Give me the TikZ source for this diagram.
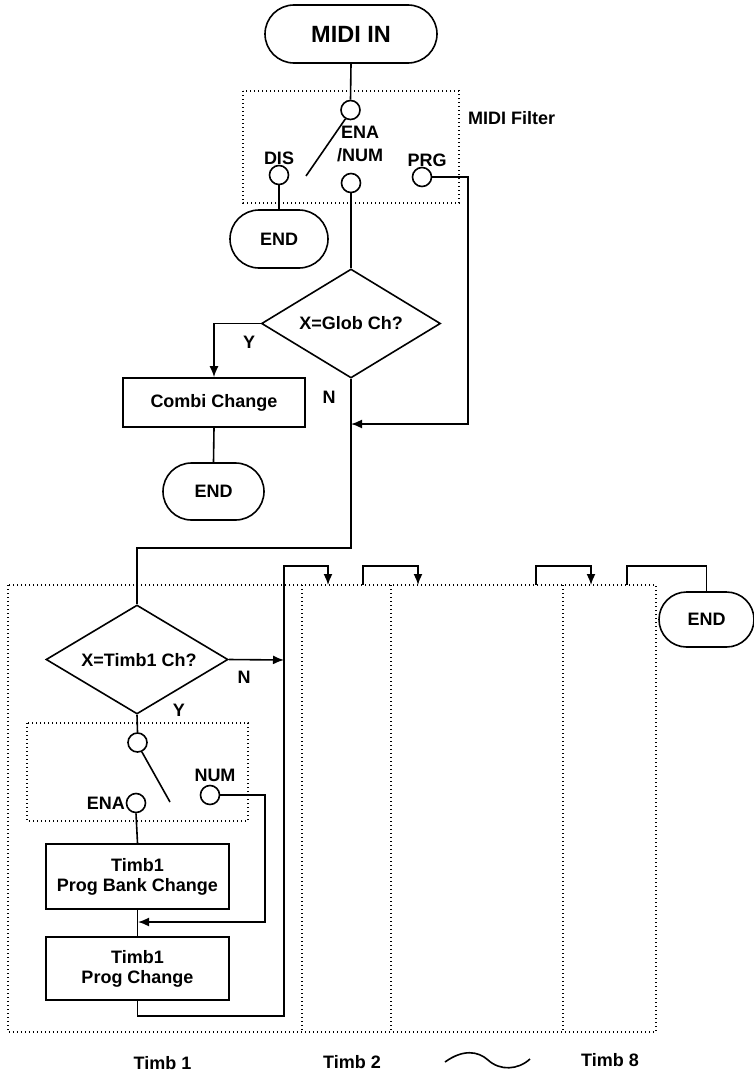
\documentclass[tikz,border=0pt]{standalone}
\usepackage{fontspec}
\setmainfont{Liberation Sans}
\usetikzlibrary{shapes.geometric,shapes.misc,arrows.meta}
\begin{document}
\begin{tikzpicture}[x=1pt,y=-1pt,
  every node/.style={font=\fontsize{18}{20}\selectfont\bfseries},
  ln/.style={line width=1.6pt},
  arr/.style={ln,-{Latex[length=11pt,width=9pt]}},
  dotbox/.style={line width=1.4pt,dash pattern=on 1.4pt off 2.6pt},
  term/.style={draw,ln,rounded rectangle,minimum height=#1,inner sep=0pt},
  procbox/.style={draw,ln,rectangle,inner sep=0pt,align=center},
  dia/.style={draw,ln,diamond,inner sep=0pt},
  sw/.style={draw,ln,circle,minimum size=19pt,inner sep=0pt},
  lbl/.style={inner sep=0pt}
]
\useasboundingbox (0,0) rectangle (754,1073);
% ---------- top ----------
\node[term=58pt,minimum width=172pt,font=\fontsize{23.5}{25}\selectfont\bfseries] (midi) at (351,34) {MIDI IN};
\draw[dotbox] (243,91) rectangle (459,203);
\node[lbl,anchor=west] (filt) at (468,118) {MIDI Filter};
\node[sw] (c1) at (350.5,110) {};
\coordinate (s1) at (306,176);
\node[sw] (dis) at (279,175) {};
\node[sw] (ena) at (351,183) {};
\node[sw] (prg) at (422,177) {};
\node[lbl] (disl) at (279,158) {DIS};
\node[lbl,align=center,font=\fontsize{18}{22.5}\selectfont\bfseries] (enal) at (360,144) {ENA\\/NUM};
\node[lbl] (prgl) at (427,160) {PRG};
\node[term=58pt,minimum width=98pt] (end1) at (279,239) {END};
\draw[ln] (midi.south) -- (c1.north);
\draw[ln] (c1.240) -- (s1);
\draw[ln] (dis.south) -- (end1.north);
% ---------- decision 1 ----------
\node[dia,minimum width=179pt,minimum height=109pt,aspect=1.64] (d1) at (351,323.5) {};
\node[lbl] (d1t) at (d1) {X=Glob Ch?};
\draw[ln] (ena.south) -- (d1.north);
\node[procbox,minimum width=182pt,minimum height=49pt] (combi) at (214,402.5) {Combi Change};
\draw[arr] (d1.west) -| (combi.north);
\node[lbl] (y1) at (249,342) {Y};
\node[lbl] (n1) at (329,397) {N};
\node[term=57pt,minimum width=101pt] (end2) at (213.5,491.5) {END};
\draw[ln] (combi.south) -- (end2.north);
\coordinate (j1) at (351,424);
\coordinate (pr) at (468,424);
\coordinate (k1) at (351,548);
\draw[arr] (prg.east) -| (pr) -- (j1);
% ---------- decision 2 ----------
\node[dia,minimum width=182pt,minimum height=109pt,aspect=1.67] (d2) at (137,659.5) {};
\node[lbl] (d2t) at (139,660) {X=Timb1 Ch?};
\draw[ln] (d1.south) -- (k1) -| (d2.north);
\node[lbl] (n2) at (244,677) {N};
\node[lbl] (y2) at (179,710) {Y};
% timbre boxes
\draw[dotbox] (8,585) rectangle (656,1032);
\draw[dotbox] (302,585) -- (302,1032);
\draw[dotbox] (391,585) -- (391,1032);
\draw[dotbox] (563,585) -- (563,1032);
\draw[dotbox] (27,723) rectangle (248,821);
% switch 2
\node[sw] (c2) at (137.5,742.5) {};
\coordinate (s2) at (170,802);
\node[sw] (ena2) at (136,803) {};
\node[sw] (num2) at (210,795) {};
\node[lbl,anchor=east] (ena2l) at (125,803) {ENA};
\node[lbl] (num2l) at (215,775) {NUM};
\draw[ln] (d2.south) -- (c2.north);
\draw[ln] (c2.295) -- (s2);
\node[procbox,minimum width=183pt,minimum height=65pt] (pb) at (137.5,876.5) {Timb1\\Prog Bank Change};
\node[procbox,minimum width=183pt,minimum height=63pt] (pc) at (137.5,968.5) {Timb1\\Prog Change};
\draw[ln] (ena2.south) -- (pb.north);
\draw[ln] (pb.south) -- (pc.north);
\coordinate (j2) at (138,922);
\coordinate (nt) at (265,922);
\draw[arr] (num2.east) -| (nt) -- (j2);
% bus
\coordinate (b1) at (284,660);
\coordinate (b2) at (284,1016);
\coordinate (b3) at (284,566);
\coordinate (t2in) at (328,585);
\draw[arr] (d2.east) -- (b1);
\draw[arr] (pc.south) |- (b2) -- (b3) -| (t2in);
\coordinate (t2out) at (363,585);
\coordinate (t3in) at (418,585);
\draw[arr] (t2out) -- ++(0,-19) -| (t3in);
\coordinate (t7out) at (536,585);
\coordinate (t8in) at (591,585);
\draw[arr] (t7out) -- ++(0,-19) -| (t8in);
\node[term=55pt,minimum width=95pt] (end3) at (706.5,619.5) {END};
\coordinate (t8out) at (627,585);
\draw[ln] (t8out) -- ++(0,-19) -| (end3.north);
% labels
\node[lbl] (tb1) at (162.5,1063) {Timb 1};
\node[lbl] (tb2) at (352,1062) {Timb 2};
\node[lbl] (tb8) at (610,1060) {Timb 8};
\draw[ln] (445,1062) .. controls (463,1049) and (478,1051) .. (488,1060) .. controls (500,1071) and (518,1070) .. (530,1059);
\end{tikzpicture}
\end{document}
